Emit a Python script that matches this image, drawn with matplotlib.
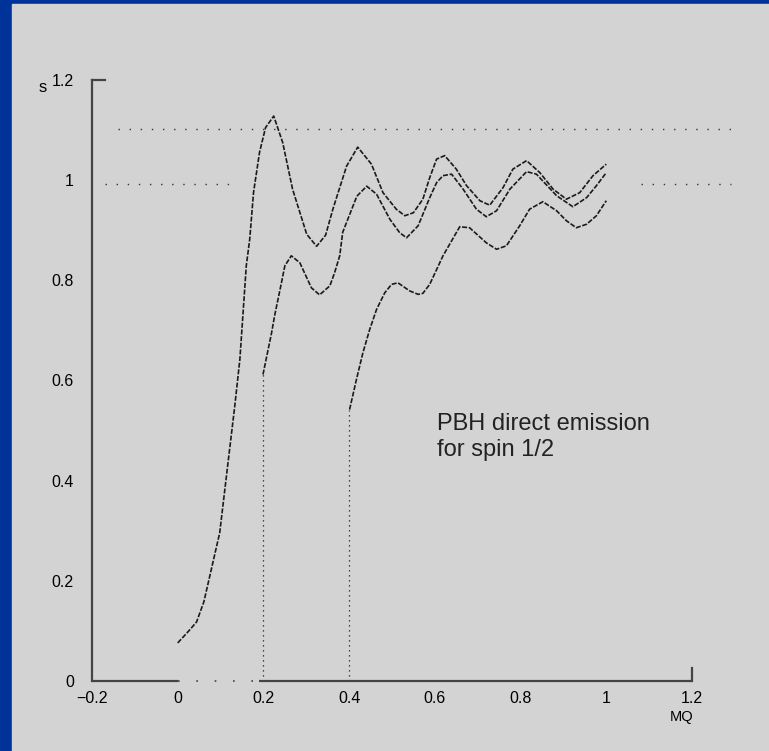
import numpy as np
import matplotlib.pyplot as plt

plt.rcParams['font.family'] = ['Liberation Sans', 'DejaVu Sans']

# top curve, starts at M*omega = 0
x_a = [0.0, 0.028, 0.044, 0.061, 0.098, 0.121, 0.133, 0.145, 0.152, 0.160, 0.168,
       0.177, 0.191, 0.205, 0.224, 0.245, 0.268, 0.301, 0.324, 0.345, 0.362, 0.394,
       0.420, 0.452, 0.479, 0.510, 0.530, 0.550, 0.572, 0.588, 0.604, 0.623, 0.650,
       0.674, 0.705, 0.728, 0.759, 0.782, 0.814, 0.845, 0.876, 0.907, 0.938, 0.969, 1.0]
y_a = [0.076, 0.102, 0.118, 0.158, 0.296, 0.462, 0.548, 0.642, 0.729, 0.829, 0.882,
       0.976, 1.056, 1.105, 1.128, 1.075, 0.982, 0.892, 0.868, 0.890, 0.942, 1.028,
       1.066, 1.032, 0.975, 0.942, 0.929, 0.935, 0.962, 1.005, 1.042, 1.049, 1.022,
       0.989, 0.959, 0.950, 0.985, 1.022, 1.039, 1.015, 0.982, 0.962, 0.975, 1.009, 1.032]

# middle curve, threshold at 0.2
x_b = [0.199, 0.211, 0.219, 0.226, 0.234, 0.242, 0.250, 0.265, 0.285, 0.312, 0.331,
       0.355, 0.366, 0.378, 0.385, 0.418, 0.441, 0.464, 0.495, 0.518, 0.534, 0.561,
       0.588, 0.604, 0.619, 0.639, 0.666, 0.697, 0.720, 0.744, 0.775, 0.814, 0.837,
       0.884, 0.922, 0.954, 0.977, 1.0]
y_b = [0.612, 0.662, 0.695, 0.729, 0.762, 0.795, 0.829, 0.849, 0.835, 0.785, 0.771,
       0.789, 0.815, 0.849, 0.896, 0.968, 0.988, 0.972, 0.922, 0.895, 0.885, 0.909,
       0.965, 0.995, 1.009, 1.012, 0.982, 0.942, 0.927, 0.939, 0.982, 1.017, 1.012,
       0.969, 0.947, 0.965, 0.989, 1.015]

# lower curve, threshold at 0.4
x_c = [0.401, 0.417, 0.432, 0.448, 0.464, 0.483, 0.499, 0.514, 0.541, 0.561, 0.572,
       0.588, 0.619, 0.658, 0.681, 0.720, 0.744, 0.767, 0.798, 0.821, 0.852, 0.884,
       0.907, 0.930, 0.954, 0.977, 1.0]
y_c = [0.542, 0.602, 0.655, 0.702, 0.742, 0.775, 0.792, 0.795, 0.779, 0.772, 0.774,
       0.792, 0.849, 0.907, 0.905, 0.875, 0.862, 0.869, 0.909, 0.942, 0.957, 0.939,
       0.919, 0.905, 0.912, 0.929, 0.959]

# thresholds
thresholds = [0.2, 0.4]
threshold_tops = [0.612, 0.542]

# faint dotted guide rows
guide_rows = [1.102, 0.992, 0.992]
guide_spans = [(-0.14, 1.31), (-0.17, 0.14), (1.08, 1.29)]

xticks = [-0.2, 0, 0.2, 0.4, 0.6, 0.8, 1, 1.2]
xlabels = ['−0.2', '0', '0.2', '0.4', '0.6', '0.8', '1', '1.2']
yticks = [0, 0.2, 0.4, 0.6, 0.8, 1, 1.2]
ylabels = ['0', '0.2', '0.4', '0.6', '0.8', '1', '1.2']

bg = '#d3d3d3'
ink = '#1a1a1a'

fig = plt.figure(figsize=(7.69, 7.51), dpi=100, facecolor='#003399')
# grey panel inside the blue frame
fig.patches.append(plt.Rectangle((12 / 769, 0), 1, 1 - 4 / 751,
                                 transform=fig.transFigure, color=bg, zorder=-10))

ax = fig.add_axes([92 / 769, 70 / 751, 600 / 769, 601 / 751])
ax.set_facecolor('none')
ax.set_xlim(-0.2, 1.2)
ax.set_ylim(0, 1.2)

for y, (x0, x1) in zip(guide_rows, guide_spans):
    ax.plot([x0, x1], [y, y], color='#333333', lw=1.0,
            linestyle=(0, (1, 7)), clip_on=False)

for xs, ys in [(x_a, y_a), (x_b, y_b), (x_c, y_c)]:
    ax.plot(xs, ys, color=ink, lw=1.2, linestyle=(0, (3, 1)))
for xt, yt in zip(thresholds, threshold_tops):
    ax.plot([xt, xt], [0, yt], color=ink, lw=0.9, linestyle=(0, (1, 3)))

for s in ['top', 'right', 'bottom']:
    ax.spines[s].set_visible(False)
ax.spines['left'].set_color('#444444')
ax.spines['left'].set_linewidth(1.6)

# bottom axis line, broken near the origin
ax.plot([-0.2, 0.0], [0, 0], color='#444444', lw=1.6, clip_on=False, solid_capstyle='butt')
ax.plot([0.19, 1.2], [0, 0], color='#444444', lw=1.6, clip_on=False, solid_capstyle='butt')
ax.plot([0.0, 0.19], [0, 0], color='#444444', lw=1.2, linestyle=(0, (1, 10)), clip_on=False)
# corner stubs
ax.plot([-0.2, -0.17], [1.2, 1.2], color='#444444', lw=1.6, clip_on=False)
ax.plot([1.2, 1.2], [0, 0.025], color='#444444', lw=1.6, clip_on=False)

# tick marks drawn in the background colour so they break the axis lines
ax.set_xticks(np.arange(-0.2, 1.2001, 0.05), minor=True)
ax.set_yticks(np.arange(0, 1.2001, 0.05), minor=True)
ax.set_xticks(xticks)
ax.set_xticklabels(xlabels)
ax.set_yticks(yticks)
ax.set_yticklabels(ylabels)
ax.tick_params(which='both', direction='inout', color=bg, width=1.2, length=4)
ax.tick_params(axis='y', which='major', pad=11, labelsize=11.5)
ax.tick_params(axis='x', which='major', pad=5, labelsize=11.5)

ax.text(0.604, 0.487, 'PBH direct emission\nfor spin 1/2', fontsize=17,
        va='center', ha='left', color='#222222', linespacing=1.25)

fig.text(43 / 769, 1 - 88 / 751, 's', fontsize=12, ha='center', va='center')
fig.text(682 / 769, 1 - 717 / 751, 'MQ', fontsize=10.5, ha='center', va='center')

fig.savefig('out.png', dpi=100, facecolor=fig.get_facecolor())
